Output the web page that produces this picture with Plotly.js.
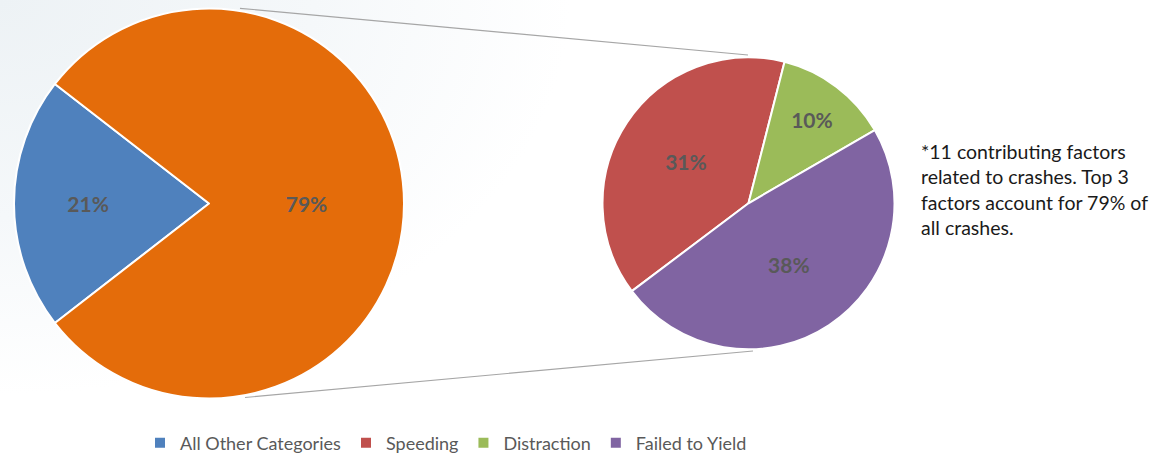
<!DOCTYPE html>
<html>
<head>
<meta charset="utf-8">
<script src="https://cdn.plot.ly/plotly-3.0.1.min.js"></script>
<style>
  html, body { margin: 0; padding: 0; background: #ffffff; }
  #wrap { position: relative; width: 1170px; height: 453px; }
  #bg { position: absolute; left: 0; top: 0; width: 570px; height: 395px;
        background: radial-gradient(ellipse 100% 100% at 0% 0%, #edf2f5 0%, #f5f8fa 55%, #ffffff 100%); }
  #chart { position: absolute; left: 0; top: 0; width: 1170px; height: 453px; }
</style>
</head>
<body>
<div id="wrap"><div id="bg"></div><div id="chart"></div></div>
<script>
// ---- data ----
var mainLabels = ["All Other Categories", "Top 3 Factors"];
var mainValues = [21, 79];
var mainColors = ["#4f81bd", "#e46c0a"];

var topLabels = ["Speeding", "Distraction", "Failed to Yield"];
var topValues = [31, 10, 38];               // percent of all crashes
var topColors = ["#c0504d", "#9bbb59", "#8064a2"];

var noteText = "*11 contributing factors<br>related to crashes. Top 3<br>factors account for 79% of<br>all crashes.";

// ---- geometry (pixel layout of the figure) ----
var W = 1170, H = 453;
var leftPie  = { cx: 209, cy: 203.5, r: 195 };
var rightPie = { cx: 748.5, cy: 203.3, r: 146 };
function dom(p) {
  return { x: [(p.cx - p.r) / W, (p.cx + p.r) / W],
           y: [1 - (p.cy + p.r) / H, 1 - (p.cy - p.r) / H] };
}
function px(x) { return x / W; }
function py(y) { return 1 - y / H; }

// left pie: "All Other" slice centred on the left side
var otherShare = mainValues[0] / (mainValues[0] + mainValues[1]);
var mainRotation = 270 - otherShare * 360 / 2;

// right pie: legend carries "All Other Categories" as a zero entry so it appears first
var legLabels = [mainLabels[0]].concat(topLabels);
var legValues = [0].concat(topValues);
var legColors = [mainColors[0]].concat(topColors);
var legText = [""].concat(topValues.map(function (v) { return v + "%"; }));
var topSum = topValues.reduce(function (a, b) { return a + b; }, 0);
// boundary Speeding|Distraction sits ~14° clockwise from 12 o'clock
var rightRotation = 14.3 - topValues[0] / topSum * 360;

var labelFont = { family: "Lato, 'Open Sans', sans-serif", size: 21, color: "#595959", weight: "bold" };

var traces = [
  {
    type: "pie",
    labels: mainLabels,
    values: mainValues,
    marker: { colors: mainColors, line: { color: "#ffffff", width: 2 } },
    sort: false,
    direction: "clockwise",
    rotation: mainRotation,
    domain: dom(leftPie),
    text: mainValues.map(function (v) { return v + "%"; }),
    textinfo: "text",
    textposition: "inside",
    insidetextorientation: "horizontal",
    insidetextfont: labelFont,
    showlegend: false,
    hoverinfo: "label+text"
  },
  {
    type: "pie",
    labels: legLabels,
    values: legValues,
    marker: { colors: legColors, line: { color: "#ffffff", width: 2 } },
    sort: false,
    direction: "clockwise",
    rotation: rightRotation,
    domain: dom(rightPie),
    text: legText,
    textinfo: "text",
    textposition: "inside",
    insidetextorientation: "horizontal",
    insidetextfont: labelFont,
    showlegend: true,
    hoverinfo: "label+text"
  }
];

var layout = {
  width: W, height: H,
  margin: { l: 0, r: 0, t: 0, b: 0, autoexpand: false },
  paper_bgcolor: "rgba(0,0,0,0)",
  plot_bgcolor: "rgba(0,0,0,0)",
  showlegend: true,
  legend: {
    orientation: "h",
    x: px(140), xanchor: "left",
    y: py(443), yanchor: "middle",
    font: { family: "Lato, 'Open Sans', sans-serif", size: 18, color: "#595959" },
    bgcolor: "rgba(0,0,0,0)",
    itemclick: false
  },
  shapes: [
    { type: "line", xref: "paper", yref: "paper",
      x0: px(240), y0: py(8.3), x1: px(748), y1: py(55),
      line: { color: "#a6a6a6", width: 1.2 } },
    { type: "line", xref: "paper", yref: "paper",
      x0: px(245), y0: py(397.5), x1: px(753), y1: py(351),
      line: { color: "#a6a6a6", width: 1.2 } }
  ],
  annotations: [
    { xref: "paper", yref: "paper", x: px(919), y: py(138),
      xanchor: "left", yanchor: "top", align: "left", showarrow: false,
      text: noteText,
      font: { family: "Lato, 'Open Sans', sans-serif", size: 19.5, color: "#1a1a1a" } }
  ]
};

Plotly.newPlot("chart", traces, layout, { displayModeBar: false, staticPlot: true });
</script>
</body>
</html>
